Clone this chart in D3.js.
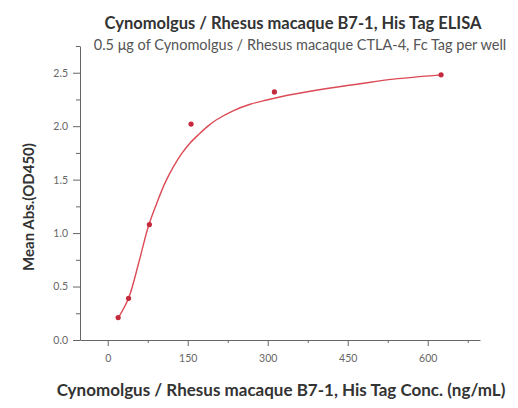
<!DOCTYPE html>
<html>
<head>
<meta charset="utf-8">
<script src="https://cdn.jsdelivr.net/npm/d3@7"></script>
<style>
  body { margin: 0; background: #fff; }
  svg { font-family: Lato, "Open Sans", sans-serif; }
  .axis path, .axis line { stroke: #666; }
  .axis text { fill: #666; font-size: 10.5px; font-family: Lato, sans-serif; }
</style>
</head>
<body>
<svg id="chart" width="518" height="408"></svg>
<script>
// measured points
var conc = [19.53, 39.06, 78.13, 156.25, 312.5, 625];
var od = [0.21, 0.39, 1.08, 2.02, 2.32, 2.48];

// fitted curve
var fitX = [19.5, 39, 58, 76, 92, 107, 123, 139, 154, 170, 189, 204, 236, 267, 298, 329, 361, 411, 473, 536, 625];
var fitY = [0.205, 0.39, 0.72, 1.06, 1.28, 1.465, 1.62, 1.745, 1.84, 1.92, 2.005, 2.06, 2.146, 2.205, 2.245, 2.28, 2.31, 2.352, 2.397, 2.44, 2.48];

var xMajor = [0, 150, 300, 450, 600];
var xMinor = [75, 225, 375, 525, 675];
var yMajor = [0, 0.5, 1.0, 1.5, 2.0, 2.5];
var yMinor = [0.25, 0.75, 1.25, 1.75, 2.25, 2.75];

var title = 'Cynomolgus / Rhesus macaque B7-1, His Tag ELISA';
var subtitle = '0.5 \u03bcg of Cynomolgus / Rhesus macaque CTLA-4, Fc Tag per well';
var xTitle = 'Cynomolgus / Rhesus macaque B7-1, His Tag Conc. (ng/mL)';
var yTitle = 'Mean Abs.(OD450)';

var svg = d3.select('#chart');

var x = d3.scaleLinear().domain([-52, 698]).range([80, 480]);
var y = d3.scaleLinear().domain([0, 2.75]).range([340, 46]);

// minor ticks first, then major ticks on top
svg.append('g').attr('class', 'axis')
	.attr('transform', 'translate(0,340)')
	.call(d3.axisBottom(x).tickValues(xMinor).tickSize(3).tickFormat(''))
	.select('.domain').remove();
svg.append('g').attr('class', 'axis')
	.attr('transform', 'translate(0,340)')
	.call(d3.axisBottom(x).tickValues(xMajor).tickSize(6).tickSizeOuter(0).tickPadding(9).tickFormat(d3.format('d')));

svg.append('g').attr('class', 'axis')
	.attr('transform', 'translate(80,0)')
	.call(d3.axisLeft(y).tickValues(yMinor).tickSize(4).tickFormat(''))
	.select('.domain').remove();
svg.append('g').attr('class', 'axis')
	.attr('transform', 'translate(80,0)')
	.call(d3.axisLeft(y).tickValues(yMajor).tickSize(7).tickSizeOuter(0).tickPadding(5).tickFormat(d3.format('.1f')));

// curve
var line = d3.line()
	.x(function(d) { return x(d[0]); })
	.y(function(d) { return y(d[1]); })
	.curve(d3.curveCatmullRom);

svg.append('path')
	.datum(d3.zip(fitX, fitY))
	.attr('d', line)
	.attr('fill', 'none')
	.attr('stroke', '#dc4a55')
	.attr('stroke-width', 1.4);

svg.selectAll('circle.pt')
	.data(d3.zip(conc, od))
	.enter()
	.append('circle')
	.attr('class', 'pt')
	.attr('cx', function(d) { return x(d[0]); })
	.attr('cy', function(d) { return y(d[1]); })
	.attr('r', 2.6)
	.attr('fill', '#c42a3c');

// texts
svg.append('text')
	.text(title)
	.attr('x', 293).attr('y', 29)
	.attr('text-anchor', 'middle')
	.attr('font-weight', 'bold')
	.attr('font-size', '16.5px')
	.attr('fill', '#333');

svg.append('text')
	.text(subtitle)
	.attr('x', 300).attr('y', 50)
	.attr('text-anchor', 'middle')
	.attr('font-size', '14.5px')
	.attr('fill', '#555');

svg.append('text')
	.text(xTitle)
	.attr('x', 281).attr('y', 396)
	.attr('text-anchor', 'middle')
	.attr('font-weight', 'bold')
	.attr('font-size', '17px')
	.attr('fill', '#333');

svg.append('text')
	.text(yTitle)
	.attr('transform', 'translate(34,207) rotate(-90)')
	.attr('text-anchor', 'middle')
	.attr('font-weight', 'bold')
	.attr('font-size', '15px')
	.attr('fill', '#333');
</script>
</body>
</html>
